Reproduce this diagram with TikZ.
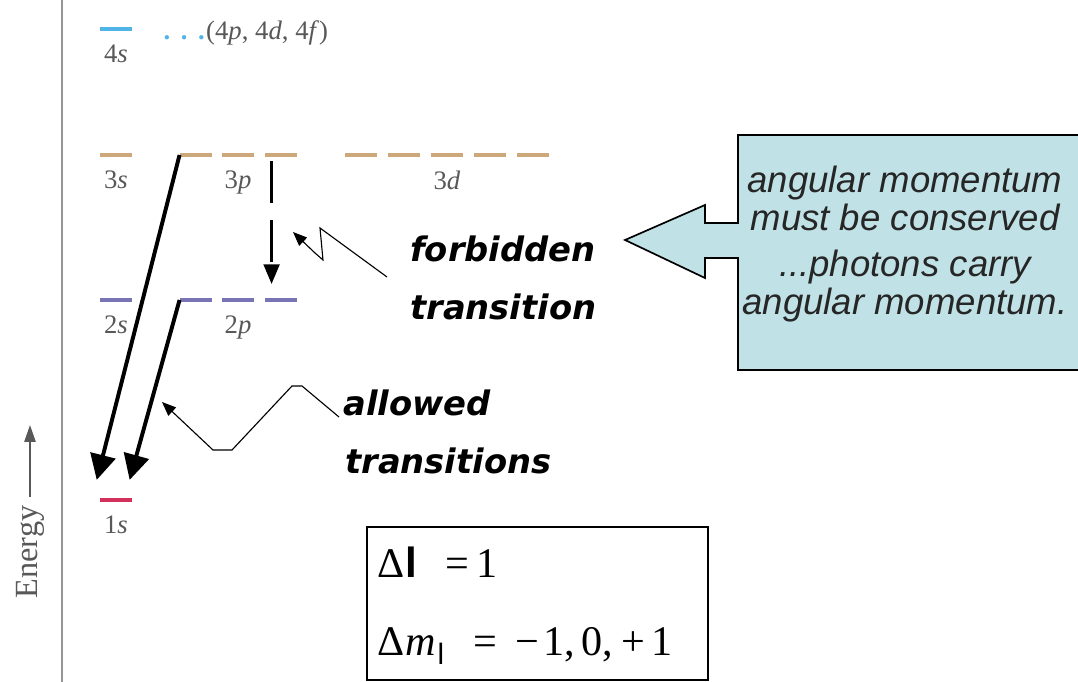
\documentclass[tikz,border=0pt]{standalone}
\usepackage{fontspec}
\setmainfont{Liberation Serif}
\newfontfamily\handfont{DejaVu Sans}
\newfontfamily\notefont{Liberation Sans}
\usetikzlibrary{arrows.meta,positioning}

\definecolor{lvlfour}{RGB}{80,180,232}
\definecolor{lvlthree}{RGB}{205,168,122}
\definecolor{lvltwo}{RGB}{120,116,182}
\definecolor{lvlone}{RGB}{212,48,92}
\definecolor{lblgray}{RGB}{88,88,88}
\definecolor{axisgray}{RGB}{150,150,150}
\definecolor{notefill}{RGB}{192,226,230}

\begin{document}
\begin{tikzpicture}[
		x=0.025cm, y=-0.025cm,
		level/.style={rectangle, inner sep=0pt, minimum width=23pt, minimum height=2.2pt},
		lvllbl/.style={inner sep=0pt, text=lblgray, font=\fontsize{19}{22}\selectfont},
		hand/.style={inner sep=0pt, anchor=base west, font=\handfont\bfseries\itshape\fontsize{24}{28}\selectfont},
		note/.style={align=center, text=black!85, font=\notefont\itshape\fontsize{26}{27}\selectfont},
		rule/.style={inner sep=0pt, anchor=base west, font=\fontsize{30}{34}\selectfont},
		allowed/.style={-{Triangle[length=18pt, width=18pt]}, line width=2.8pt},
		forbid/.style={-{Triangle[length=14pt, width=11pt]}, line width=2.4pt, dash pattern=on 30pt off 12pt},
		squig/.style={-{Triangle[length=10pt, width=8pt]}, line width=0.8pt},
		]
		\useasboundingbox (0,0) rectangle (1078,682);
		\clip (0,0) rectangle (1078,682);

		% Energy axis
		\draw[axisgray, line width=1.4pt] (62,0) -- (62,682);
		\node[lvllbl, inner sep=2pt, font=\fontsize{23}{26}\selectfont, rotate=90] (energy) at (30,552) {Energy};
		\coordinate (etip) at (30,425);
		\draw[-{Triangle[length=12pt, width=8pt]}, line width=1.2pt, lblgray, shorten <=4pt] (energy.east) -- (etip);

		% n = 4
		\node[level, fill=lvlfour] (s4) at (116,29) {};
		\node[lvllbl, below=10pt of s4] {4\textit{s}};
		\node[lvllbl, right=22pt of s4, yshift=-3pt] (more) {\textcolor{lvlfour}{\textbf{.\kern7.5pt.\kern7.5pt.}}\kern1pt(4\textit{p}, 4\textit{d}, 4\textit{f})};

		% n = 3
		\node[level, fill=lvlthree] (s3) at (116,155) {};
		\foreach \x [count=\i] in {196,238,281}
			\node[level, fill=lvlthree] (p3\i) at (\x,155) {};
		\foreach \x [count=\i] in {361,404,447,490,533}
			\node[level, fill=lvlthree] (d3\i) at (\x,155) {};
		\node[lvllbl, below=10pt of s3] {3\textit{s}};
		\node[lvllbl, below=10pt of p32] {3\textit{p}};
		\node[lvllbl, below=10pt of d33] {3\textit{d}};

		% n = 2
		\node[level, fill=lvltwo] (s2) at (116,300) {};
		\foreach \x [count=\i] in {196,238,281}
			\node[level, fill=lvltwo] (p2\i) at (\x,300) {};
		\node[lvllbl, below=10pt of s2] {2\textit{s}};
		\node[lvllbl, below=10pt of p22] {2\textit{p}};

		% n = 1
		\node[level, fill=lvlone] (s1) at (116,500) {};
		\node[lvllbl, below=10pt of s1] {1\textit{s}};

		% Transitions
		\draw[allowed] (p31.west) -- ([xshift=-2pt, yshift=13pt]s1.north west);
		\draw[allowed] (p21.west) -- ([xshift=-2pt, yshift=13pt]s1.north east);
		\draw[forbid] ([xshift=5pt, yshift=-3pt]p33.south west) -- ([xshift=5pt, yshift=10pt]p23.north west);

		% Labels
		\node[hand] (forb1) at (410,262) {forbidden};
		\node[hand] (forb2) at (410,320) {transition};
		\node[hand] (allow1) at (343,415) {allowed};
		\node[hand] (allow2) at (345,473) {transitions};

		% Pointers
		\coordinate (fstart) at (387,277);
		\coordinate (ftip) at (293,232);
		\draw[squig] (fstart) -- (320,228) -- (323,260) -- (315,253) -- (ftip);
		\coordinate (astart) at (339,417);
		\coordinate (atip) at (162,402);
		\draw[squig] (astart) -- (302,386) -- (292,386) -- (232,450) -- (213,450) -- (atip);

		% Callout
		\draw[fill=notefill, line width=1.2pt] (738,135) -- (1090,135) -- (1090,370) -- (738,370) -- (738,258)
			-- (705,258) -- (705,278) -- (625,240) -- (705,205) -- (705,223) -- (738,223) -- cycle;
		\node[note] (why) at (905,244) {angular momentum\\must be conserved\\[6pt]...photons carry\\angular momentum.};

		% Selection rules
		\draw[line width=1.4pt] (367,527) rectangle (708,680);
		\node[rule] (dl) at (377,577) {Δ\hspace{1pt}{\notefont\bfseries l}\hspace{20pt}=\hspace{5pt}1};
		\node[rule] (dm) at (377,655) {Δ\hspace{1pt}\textit{m}\hspace{1pt}\textsubscript{\notefont l}\hspace{20pt}=\hspace{13pt}−\hspace{3pt}1,\hspace{5pt}0,\hspace{6pt}+\hspace{4pt}1};

	\end{tikzpicture}
\end{document}
